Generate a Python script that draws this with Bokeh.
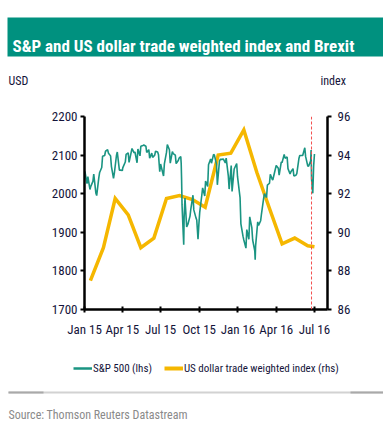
import pandas as pd
from bokeh.plotting import figure
from bokeh.layouts import column
from bokeh.models import (LinearAxis, Range1d, FixedTicker, DatetimeTickFormatter,
                          Span, Label, Legend, LegendItem, ColumnDataSource)
from bokeh.embed import file_html
from bokeh.resources import INLINE

TITLE = "S&P and US dollar trade weighted index  and Brexit"
LEFT_UNIT = "USD"
RIGHT_UNIT = "index"
SOURCE_TEXT = "Source: Thomson Reuters Datastream"
SP_LABEL = "S&P 500 (lhs)"
USD_LABEL = "US dollar trade weighted index (rhs)"

sp_dates = [
    "2015-01-02", "2015-01-07", "2015-01-09", "2015-01-14", "2015-01-16", "2015-01-21", "2015-01-23",
    "2015-01-28", "2015-01-30", "2015-02-04", "2015-02-06", "2015-02-11", "2015-02-13", "2015-02-18",
    "2015-02-20", "2015-02-25", "2015-02-27", "2015-03-04", "2015-03-06", "2015-03-11", "2015-03-13",
    "2015-03-18", "2015-03-20", "2015-03-25", "2015-03-27", "2015-04-01", "2015-04-02", "2015-04-08",
    "2015-04-10", "2015-04-15", "2015-04-17", "2015-04-22", "2015-04-24", "2015-04-29", "2015-05-01",
    "2015-05-06", "2015-05-08", "2015-05-13", "2015-05-15", "2015-05-20", "2015-05-22", "2015-05-27",
    "2015-05-29", "2015-06-03", "2015-06-05", "2015-06-10", "2015-06-12", "2015-06-17", "2015-06-19",
    "2015-06-24", "2015-06-26", "2015-06-29", "2015-07-01", "2015-07-08", "2015-07-10", "2015-07-15",
    "2015-07-17", "2015-07-22", "2015-07-24", "2015-07-29", "2015-07-31", "2015-08-05", "2015-08-07",
    "2015-08-12", "2015-08-14", "2015-08-18", "2015-08-19", "2015-08-20", "2015-08-21", "2015-08-24",
    "2015-08-25", "2015-08-26", "2015-08-28", "2015-09-01", "2015-09-04", "2015-09-09", "2015-09-11",
    "2015-09-16", "2015-09-18", "2015-09-23", "2015-09-25", "2015-09-28", "2015-09-30", "2015-10-02",
    "2015-10-07", "2015-10-09", "2015-10-14", "2015-10-16", "2015-10-21", "2015-10-23", "2015-10-28",
    "2015-10-30", "2015-11-04", "2015-11-06", "2015-11-11", "2015-11-13", "2015-11-18", "2015-11-20",
    "2015-11-25", "2015-11-27", "2015-12-02", "2015-12-04", "2015-12-09", "2015-12-11", "2015-12-16",
    "2015-12-18", "2015-12-23", "2015-12-29", "2015-12-31", "2016-01-06", "2016-01-08", "2016-01-13",
    "2016-01-15", "2016-01-20", "2016-01-22", "2016-01-27", "2016-01-29", "2016-02-03", "2016-02-05",
    "2016-02-10", "2016-02-11", "2016-02-12", "2016-02-17", "2016-02-19", "2016-02-24", "2016-02-26",
    "2016-03-02", "2016-03-04", "2016-03-09", "2016-03-11", "2016-03-16", "2016-03-18", "2016-03-23",
    "2016-03-24", "2016-03-30", "2016-04-01", "2016-04-06", "2016-04-08", "2016-04-13", "2016-04-15",
    "2016-04-20", "2016-04-22", "2016-04-27", "2016-04-29", "2016-05-04", "2016-05-06", "2016-05-11",
    "2016-05-13", "2016-05-18", "2016-05-20", "2016-05-25", "2016-05-27", "2016-06-01", "2016-06-03",
    "2016-06-08", "2016-06-10", "2016-06-15", "2016-06-17", "2016-06-22", "2016-06-23", "2016-06-24",
    "2016-06-27", "2016-06-29", "2016-07-01",
]
sp_values = [
    2058, 2026, 2044, 2011, 2019, 2032, 2051,
    2002, 1995, 2041, 2055, 2068, 2097, 2099,
    2110, 2114, 2105, 2098, 2071, 2040, 2053,
    2099, 2108, 2061, 2061, 2060, 2067, 2082,
    2102, 2106, 2081, 2107, 2117, 2106, 2108,
    2080, 2116, 2098, 2123, 2125, 2126, 2123,
    2107, 2114, 2092, 2105, 2094, 2100, 2110,
    2108, 2101, 2057, 2077, 2046, 2077, 2107,
    2127, 2114, 2079, 2109, 2104, 2100, 2078,
    2086, 2092, 2096, 2079, 2035, 1971, 1893,
    1868, 1940, 1989, 1914, 1921, 1942, 1961,
    1996, 1958, 1938, 1932, 1882, 1920, 1951,
    1996, 2015, 1994, 2033, 2019, 2075, 2090,
    2079, 2102, 2100, 2076, 2023, 2084, 2089,
    2089, 2090, 2080, 2092, 2047, 2012, 2073,
    2006, 2064, 2078, 2044, 1990, 1922, 1890,
    1880, 1859, 1907, 1882, 1940, 1912, 1880,
    1852, 1829, 1865, 1927, 1918, 1930, 1948,
    1987, 2000, 1990, 2022, 2027, 2050, 2036,
    2036, 2064, 2073, 2066, 2048, 2082, 2081,
    2102, 2092, 2095, 2065, 2051, 2057, 2065,
    2046, 2048, 2052, 2091, 2099, 2099, 2099,
    2119, 2096, 2072, 2071, 2085, 2113, 2038,
    2001, 2071, 2103,
]

usd_dates = [
    "2015-01-15", "2015-02-15", "2015-03-15", "2015-04-15", "2015-05-15", "2015-06-15",
    "2015-07-15", "2015-08-15", "2015-09-15", "2015-10-15", "2015-11-15", "2015-12-15",
    "2016-01-15", "2016-02-15", "2016-03-15", "2016-04-15", "2016-05-15", "2016-06-15",
    "2016-07-01",
]
usd_values = [
    87.5, 89.2, 91.75, 90.9, 89.2, 89.7,
    91.75, 91.9, 91.7, 91.3, 94.0, 94.1,
    95.3, 93.1, 91.3, 89.4, 89.7, 89.3,
    89.25,
]

x_ticks = ["2015-01-01", "2015-04-01", "2015-07-01", "2015-10-01",
           "2016-01-01", "2016-04-01", "2016-07-01"]
x_start, x_end = "2015-01-01", "2016-08-01"
brexit_date = "2016-06-24"
left_range = (1700, 2200)
left_ticks = [1700, 1800, 1900, 2000, 2100, 2200]
right_range = (86, 96)
right_ticks = [86, 88, 90, 92, 94, 96]

FONT = "'Roboto Condensed', 'Liberation Sans Narrow', Roboto, sans-serif"
TEAL = "#1a9482"
GOLD = "#f5b700"
TXT = "#14143a"
W = 383
H_HEAD, H_MAIN, H_FOOT = 90, 255, 77


def ms(d):
    return pd.Timestamp(d).value / 1e6


def blank(height):
    f = figure(width=W, height=height, x_range=Range1d(0, W), y_range=Range1d(height, 0),
               x_axis_location=None, y_axis_location=None, title=None,
               output_backend="svg", toolbar_location=None, min_border=0)
    f.frame_align = False
    f.xgrid.visible = False
    f.ygrid.visible = False
    f.outline_line_color = None
    return f


# ---------- header ----------
head = blank(H_HEAD)
head.quad(left=[7], right=[W], top=[17], bottom=[56], fill_color="#00917f", line_color=None)
head.add_layout(Label(x=12, y=45, text=TITLE, text_font=FONT, text_font_size="17px",
                      text_font_style="bold", text_color="white", text_baseline="alphabetic"))
head.add_layout(Label(x=8, y=80, text=LEFT_UNIT, text_font=FONT, text_font_size="12px",
                      text_color=TXT, text_baseline="alphabetic"))
head.add_layout(Label(x=320, y=80, text=RIGHT_UNIT, text_font=FONT, text_font_size="12px",
                      text_color=TXT, text_baseline="alphabetic"))

# ---------- main chart ----------
p = figure(width=W, height=H_MAIN, x_axis_type="datetime",
           x_range=Range1d(ms(x_start), ms(x_end)),
           y_range=Range1d(*left_range), title=None,
           output_backend="svg", toolbar_location=None)
p.frame_align = False
p.min_border_left = 84
p.min_border_right = 56
p.min_border_top = 116 - H_HEAD
p.min_border_bottom = H_HEAD + H_MAIN - 309
p.outline_line_color = None
p.xgrid.visible = False
p.ygrid.visible = False

p.extra_y_ranges = {"rhs": Range1d(*right_range)}
raxis = LinearAxis(y_range_name="rhs")
p.add_layout(raxis, "right")

for ax in [p.xaxis[0], p.yaxis[0], raxis]:
    ax.axis_line_color = "black"
    ax.axis_line_width = 2.5
    ax.major_tick_line_color = "black"
    ax.major_tick_line_width = 2
    ax.minor_tick_line_color = None
    ax.major_label_text_font = FONT
    ax.major_label_text_font_size = "13px"
    ax.major_label_text_color = TXT

p.xaxis.ticker = FixedTicker(ticks=[ms(d) for d in x_ticks])
p.xaxis.formatter = DatetimeTickFormatter(months="%b %y", days="%b %y", years="%b %y")
p.xaxis.major_tick_in = 3
p.xaxis.major_tick_out = 3
p.xaxis.major_label_standoff = 9

p.yaxis[0].ticker = FixedTicker(ticks=left_ticks)
p.yaxis[0].major_tick_in = 0
p.yaxis[0].major_tick_out = 4
p.yaxis[0].major_label_standoff = 3

raxis.ticker = FixedTicker(ticks=right_ticks)
raxis.major_tick_in = 0
raxis.major_tick_out = 4
raxis.major_label_standoff = 6

sp_src = ColumnDataSource(dict(x=pd.to_datetime(sp_dates), y=sp_values))
usd_src = ColumnDataSource(dict(x=pd.to_datetime(usd_dates), y=usd_values))

p.line("x", "y", source=usd_src, y_range_name="rhs",
       line_color=GOLD, line_width=3.5, line_join="miter")
p.line("x", "y", source=sp_src, line_color=TEAL, line_width=1.6)

p.add_layout(Span(location=ms(brexit_date), dimension="height",
                  line_color="#f25050", line_width=1, line_dash="3 2"))

# ---------- footer: legend, rule, source ----------
foot = blank(H_FOOT)
# legend key renderers, kept off-canvas so only their legend swatches show
leg_sp = foot.line(x=[-50, -40], y=[-50, -50], line_color=TEAL, line_width=2.5)
leg_usd = foot.line(x=[-50, -40], y=[-50, -50], line_color=GOLD, line_width=4)
legend = Legend(items=[LegendItem(label=SP_LABEL, renderers=[leg_sp]),
                       LegendItem(label=USD_LABEL, renderers=[leg_usd])],
                orientation="horizontal", location=(73, H_FOOT - 30),
                glyph_width=19, glyph_height=14, label_standoff=1, spacing=12,
                padding=0, margin=0, border_line_color=None, background_fill_alpha=0,
                label_text_font=FONT, label_text_font_size="11px", label_text_color=TXT,
                label_height=14)
foot.add_layout(legend)
foot.quad(left=[8], right=[W], top=[46], bottom=[48], fill_color="#d2d2d2", line_color=None)
foot.quad(left=[8, 350], right=[43, W], top=[46, 46], bottom=[48, 48],
          fill_color="#a9a9a9", line_color=None)
foot.add_layout(Label(x=8, y=69, text=SOURCE_TEXT, text_font=FONT, text_font_size="12px",
                      text_color="#8a8a8a", text_baseline="alphabetic"))

layout = column(head, p, foot, spacing=0)
open("out.html", "w").write(file_html(layout, INLINE))
